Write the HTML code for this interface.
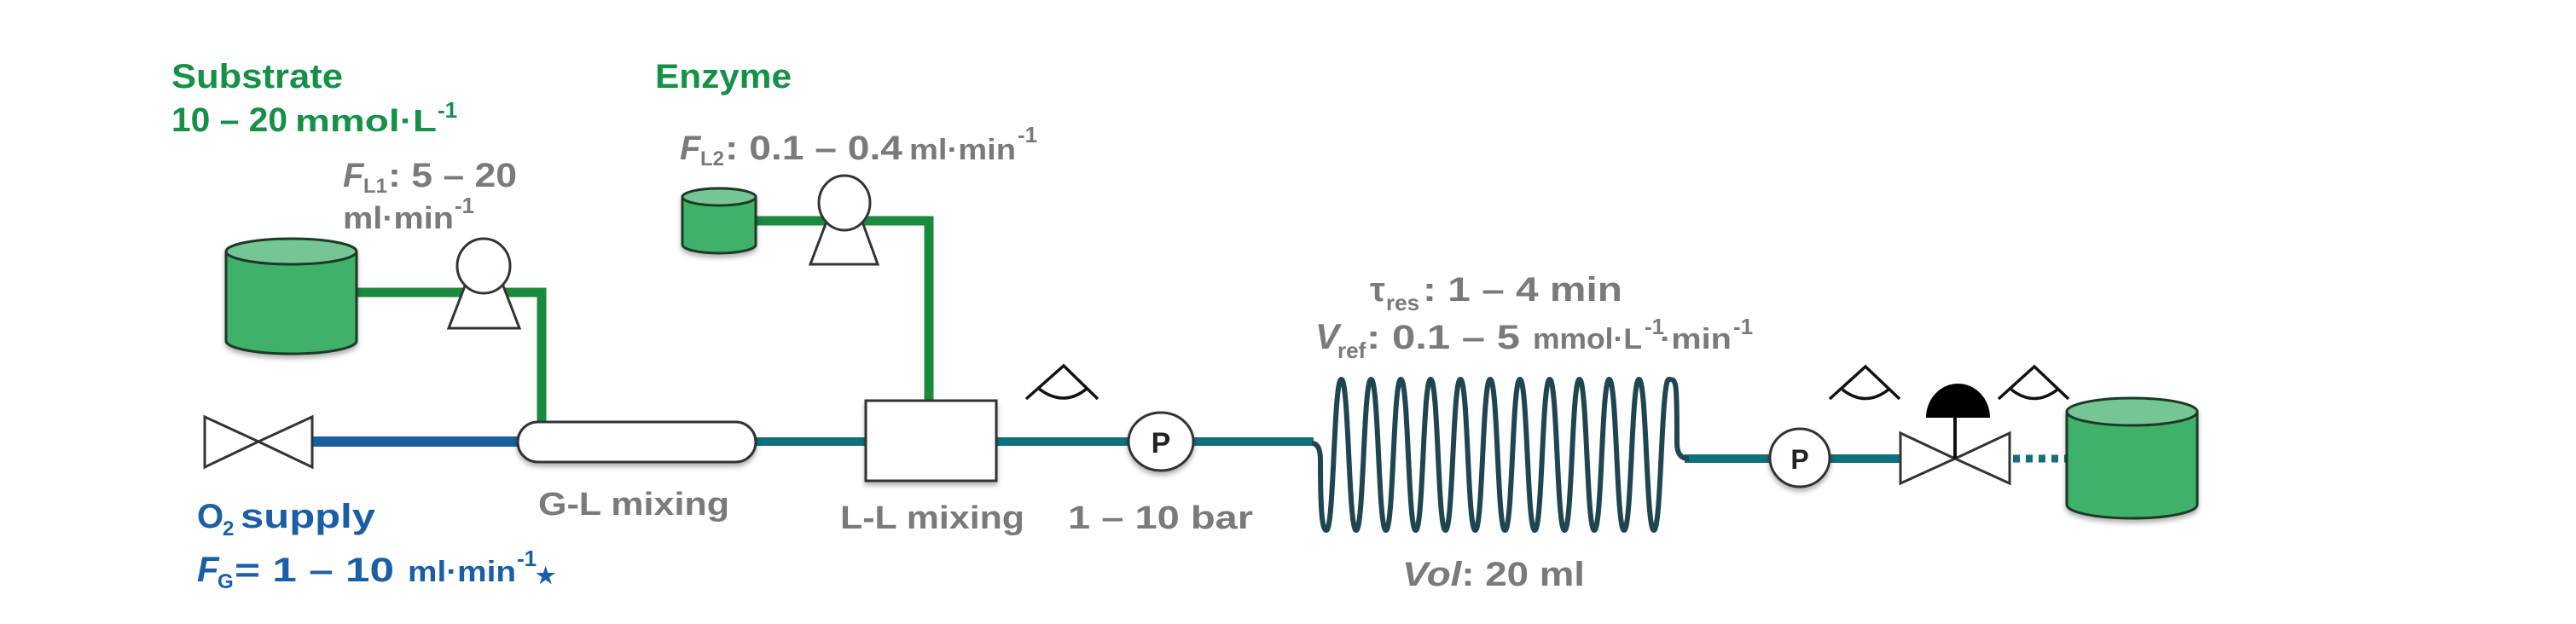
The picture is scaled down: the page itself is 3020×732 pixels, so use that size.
<!DOCTYPE html>
<html><head><meta charset="utf-8"><style>
html,body{margin:0;padding:0;background:#fff;}
svg{display:block;}
text{font-family:"Liberation Sans",sans-serif;font-weight:bold;}
.g{fill:#159147}.gr{fill:#7a7a7a}.b{fill:#1a5ea8}
</style></head><body>
<svg width="3020" height="732" viewBox="0 0 3020 732" xmlns="http://www.w3.org/2000/svg">
<defs>
<filter id="sh" x="-20%" y="-20%" width="140%" height="150%"><feDropShadow dx="0" dy="4" stdDeviation="3" flood-color="#000" flood-opacity="0.3"/></filter>
</defs>

<polyline points="418,343 635,343 635,494" fill="none" stroke="#1a8a3c" stroke-width="11"/>
<polyline points="886,259 1089,259 1089,470" fill="none" stroke="#1a8a3c" stroke-width="11"/>
<line x1="367" y1="518" x2="610" y2="518" stroke="#1a5f9e" stroke-width="12"/>
<line x1="884" y1="518" x2="1016" y2="518" stroke="#10707c" stroke-width="10"/>
<line x1="1168" y1="518" x2="1540" y2="518" stroke="#10707c" stroke-width="10"/>
<line x1="1975" y1="538" x2="2230" y2="538" stroke="#10707c" stroke-width="10"/>
<line x1="2360" y1="538" x2="2424" y2="538" stroke="#10707c" stroke-width="9" stroke-dasharray="8,7"/>

<path d="M1538,520 Q1548,520 1548,540 C1548,600 1550,622 1555,622 C1564,622 1563.5,445 1572.5,445 S1580.9,622 1589.9,622 S1598.4,445 1607.4,445 S1615.8,622 1624.8,622 S1633.3,445 1642.3,445 S1650.7,622 1659.7,622 S1668.2,445 1677.2,445 S1685.6,622 1694.6,622 S1703.1,445 1712.1,445 S1720.5,622 1729.5,622 S1738,445 1747,445 S1755.4,622 1764.4,622 S1772.9,445 1781.9,445 S1790.3,622 1799.3,622 S1807.8,445 1816.8,445 S1825.2,622 1834.2,622 S1842.7,445 1851.7,445 S1860.1,622 1869.1,622 S1877.6,445 1886.6,445 S1895,622 1904,622 S1912.5,445 1921.5,445 S1929.9,622 1938.9,622 S1947.4,445 1956.4,445 S1966,445 1966,520 Q1966,538 1980,538" fill="none" stroke="#1f4650" stroke-width="6"/>

<g filter="url(#sh)" stroke="#1d3a28" stroke-width="3">
<path d="M265,295 L265,400 A76.5,15 0 0 0 418,400 L418,295 Z" fill="#3fb16a"/>
<ellipse cx="341.5" cy="295" rx="76.5" ry="15" fill="#76c596"/>
</g>
<g filter="url(#sh)" stroke="#1d3a28" stroke-width="3">
<path d="M800,231 L800,287 A43,10 0 0 0 886,287 L886,231 Z" fill="#3fb16a"/>
<ellipse cx="843" cy="231" rx="43" ry="10" fill="#76c596"/>
</g>
<g filter="url(#sh)" stroke="#1d3a28" stroke-width="3">
<path d="M2423,483 L2423,592 A76.5,16 0 0 0 2576,592 L2576,483 Z" fill="#3fb16a"/>
<ellipse cx="2499.5" cy="483" rx="76.5" ry="16" fill="#76c596"/>
</g>

<g stroke="#333" stroke-width="3" fill="#fff">
<polygon points="526,385 609,385 586,325 549,325"/>
<ellipse cx="567" cy="312" rx="31" ry="32"/>
</g>
<g stroke="#333" stroke-width="3" fill="#fff">
<polygon points="950,310 1029,310 1008,252 972,252"/>
<ellipse cx="990" cy="238" rx="30" ry="32"/>
</g>

<polygon points="240,489 303,518 240,548" fill="#fff" stroke="#333" stroke-width="3"/>
<polygon points="366,489 303,518 366,548" fill="#fff" stroke="#333" stroke-width="3"/>

<rect x="607" y="495" width="279" height="47" rx="23.5" fill="#fff" stroke="#333" stroke-width="3" filter="url(#sh)"/>
<rect x="1015" y="470" width="153" height="94" fill="#fff" stroke="#333" stroke-width="3" filter="url(#sh)"/>

<g filter="url(#sh)"><ellipse cx="1361" cy="518" rx="38" ry="34" fill="#fff" stroke="#333" stroke-width="3"/></g>
<text x="1361" y="531" text-anchor="middle" font-size="34" fill="#222">P</text>
<g filter="url(#sh)"><ellipse cx="2110" cy="537" rx="35" ry="34" fill="#fff" stroke="#333" stroke-width="3"/></g>
<text x="2110" y="550" text-anchor="middle" font-size="32" fill="#222">P</text>

<polygon points="2228,508 2292,538 2228,567" fill="#fff" stroke="#333" stroke-width="3"/>
<polygon points="2356,508 2292,538 2356,567" fill="#fff" stroke="#333" stroke-width="3"/>
<line x1="2292" y1="538" x2="2292" y2="488" stroke="#111" stroke-width="4"/>
<path d="M2258,490 A37.5,40 0 0 1 2333,490 Z" fill="#000"/>

<g fill="none" stroke="#111" stroke-width="3.5">
<path d="M1203,468 L1247,429 L1287,468 M1218,456 Q1247,478 1274,456"/>
<path d="M2145,468 L2187,430 L2227,468 M2160,457 Q2187,478 2214,457"/>
<path d="M2343,468 L2385,430 L2425,468 M2358,457 Q2385,478 2412,457"/>
</g>

<text class="g" x="201" y="103" font-size="40" textLength="201" lengthAdjust="spacingAndGlyphs">Substrate</text>
<text class="g" x="201" y="154" font-size="40" textLength="136" lengthAdjust="spacingAndGlyphs">10 – 20</text>
<text class="g" x="346" y="154" font-size="36" textLength="166" lengthAdjust="spacingAndGlyphs">mmol·L</text>
<text class="g" x="513" y="138" font-size="26">-1</text>

<text class="g" x="768" y="103" font-size="40" textLength="160" lengthAdjust="spacingAndGlyphs">Enzyme</text>

<text class="gr" x="402" y="219" font-size="40" font-style="italic">F</text>
<text class="gr" x="426" y="226" font-size="24">L1</text>
<text class="gr" x="455" y="219" font-size="40" textLength="151" lengthAdjust="spacingAndGlyphs">: 5 – 20</text>
<text class="gr" x="402" y="268" font-size="36" textLength="130" lengthAdjust="spacingAndGlyphs">ml·min</text>
<text class="gr" x="533" y="250" font-size="26">-1</text>

<text class="gr" x="797" y="187" font-size="40" font-style="italic">F</text>
<text class="gr" x="821" y="194" font-size="24">L2</text>
<text class="gr" x="850" y="187" font-size="40" textLength="208" lengthAdjust="spacingAndGlyphs">: 0.1 – 0.4</text>
<text class="gr" x="1066" y="187" font-size="34" textLength="125" lengthAdjust="spacingAndGlyphs">ml·min</text>
<text class="gr" x="1193" y="167" font-size="26">-1</text>

<text class="gr" x="631" y="604" font-size="38" textLength="224" lengthAdjust="spacingAndGlyphs">G-L mixing</text>
<text class="gr" x="985" y="620" font-size="38" textLength="216" lengthAdjust="spacingAndGlyphs">L-L mixing</text>
<text class="gr" x="1252" y="620" font-size="38" textLength="217" lengthAdjust="spacingAndGlyphs">1 – 10 bar</text>

<text class="gr" x="1606" y="353" font-size="40">τ</text>
<text class="gr" x="1625" y="364" font-size="26">res</text>
<text class="gr" x="1668" y="353" font-size="40" textLength="234" lengthAdjust="spacingAndGlyphs">: 1 – 4 min</text>
<text class="gr" x="1542" y="409" font-size="42" font-style="italic">V</text>
<text class="gr" x="1568" y="420" font-size="26">ref</text>
<text class="gr" x="1602" y="409" font-size="40" textLength="180" lengthAdjust="spacingAndGlyphs">: 0.1 – 5</text>
<text class="gr" x="1797" y="409" font-size="34" textLength="128" lengthAdjust="spacingAndGlyphs">mmol·L</text>
<text class="gr" x="1928" y="392" font-size="26">-1</text>
<text class="gr" x="1946" y="409" font-size="34" textLength="84" lengthAdjust="spacingAndGlyphs">·min</text>
<text class="gr" x="2032" y="392" font-size="26">-1</text>

<text class="gr" x="1644" y="687" font-size="40" textLength="214" lengthAdjust="spacingAndGlyphs"><tspan font-style="italic">Vol</tspan>: 20 ml</text>

<text class="b" x="231" y="619" font-size="40">O</text>
<text class="b" x="261" y="628" font-size="24">2</text>
<text class="b" x="282" y="619" font-size="40" textLength="158" lengthAdjust="spacingAndGlyphs">supply</text>
<text class="b" x="231" y="682" font-size="42" font-style="italic">F</text>
<text class="b" x="255" y="690" font-size="24">G</text>
<text class="b" x="275" y="682" font-size="40" textLength="187" lengthAdjust="spacingAndGlyphs">= 1 – 10</text>
<text class="b" x="478" y="682" font-size="34" textLength="127" lengthAdjust="spacingAndGlyphs">ml·min</text>
<text class="b" x="606" y="664" font-size="26">-1</text>
<text class="b" x="628" y="684" font-size="26">★</text>
</svg>
</body></html>
